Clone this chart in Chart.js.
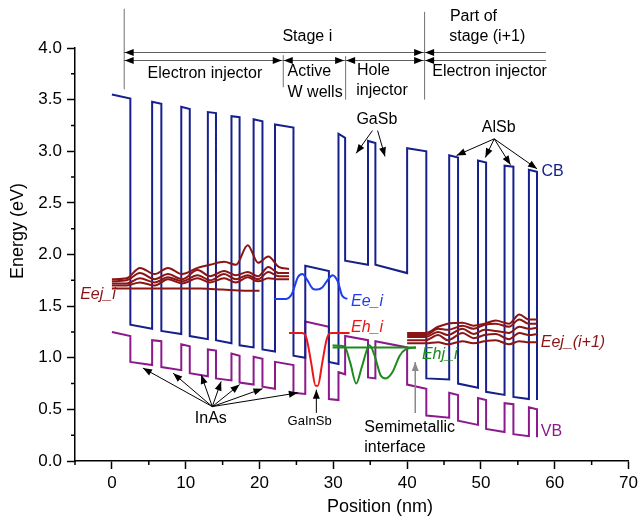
<!DOCTYPE html>
<html lang="en">
<head>
  <meta charset="UTF-8">
  <title>Band diagram</title>
  <script src="https://cdn.jsdelivr.net/npm/chart.js"></script>
  <style>
    body { margin: 0; background: #fff; }
    #chart { display: block; }
  </style>
</head>
<body>
  <canvas id="chart" width="642" height="520"></canvas>

  <script>
    // axis ticks
    var xTicks = [0, 10, 20, 30, 40, 50, 60, 70];
    var yTicks = [0, 0.5, 1, 1.5, 2, 2.5, 3, 3.5, 4];
    var yTickLabels = ['0.0', '0.5', '1.0', '1.5', '2.0', '2.5', '3.0', '3.5', '4.0'];

    // conduction band edge
    var cbPos = [0, 2.5, 2.5, 5.45, 5.45, 6.7, 6.7, 9.4, 9.4, 10.55, 10.55, 13.0, 13.0, 14.1, 14.1, 16.2, 16.2, 17.3, 17.3, 19.2, 19.2, 20.4, 20.4, 22.1, 22.1, 24.6, 24.6, 26.2, 26.2, 29.4, 29.4, 30.7, 30.7, 31.6, 31.6, 34.7, 34.7, 35.7, 35.7, 40.0, 40.0, 42.6, 42.6, 45.7, 45.7, 46.9, 46.9, 49.6, 49.6, 50.7, 50.7, 53.2, 53.2, 54.4, 54.4, 56.5, 56.5, 57.6, 57.6];
    var cbEnergy = [3.55, 3.51, 1.32, 1.28, 3.48, 3.46, 1.26, 1.23, 3.43, 3.41, 1.21, 1.18, 3.38, 3.37, 1.17, 1.14, 3.34, 3.33, 1.12, 1.10, 3.31, 3.29, 1.08, 1.06, 3.26, 3.23, 1.02, 1.00, 1.89, 1.84, 0.96, 0.94, 3.17, 3.13, 1.94, 1.90, 3.10, 3.08, 1.90, 1.82, 3.03, 3.00, 0.80, 0.79, 2.96, 2.94, 0.75, 0.71, 2.91, 2.89, 0.67, 0.64, 2.86, 2.85, 0.62, 0.60, 2.82, 2.80, 0.59];

    // valence band edge
    var vbPos = cbPos;
    var vbEnergy = [1.25, 1.21, 0.96, 0.93, 1.17, 1.16, 0.91, 0.88, 1.13, 1.11, 0.85, 0.82, 1.08, 1.07, 0.80, 0.78, 1.04, 1.02, 0.76, 0.74, 1.01, 0.99, 0.72, 0.70, 0.96, 0.93, 0.66, 0.65, 1.35, 1.30, 0.60, 0.59, 0.86, 0.84, 1.21, 1.17, 0.81, 0.80, 1.16, 1.10, 0.74, 0.70, 0.44, 0.42, 0.66, 0.64, 0.39, 0.35, 0.61, 0.59, 0.31, 0.28, 0.56, 0.55, 0.26, 0.24, 0.52, 0.50, 0.23];

    // electron injector states, stage i
    var ejPos = [0, 2, 3.8, 5.8, 7.6, 9.5, 11.6, 13.3, 15.2, 16.8, 18.4, 19.8, 21.2, 22.6, 24.0];
    var ej1 = [1.76, 1.77, 1.87, 1.81, 1.87, 1.81, 1.87, 1.90, 1.93, 1.90, 2.09, 1.92, 1.98, 1.88, 1.86];
    var ej2 = [1.74, 1.75, 1.82, 1.76, 1.81, 1.76, 1.85, 1.79, 1.84, 1.80, 1.83, 1.79, 1.88, 1.82, 1.82];
    var ej3 = [1.72, 1.72, 1.77, 1.73, 1.78, 1.74, 1.80, 1.75, 1.81, 1.76, 1.80, 1.76, 1.83, 1.79, 1.79];
    var ej4 = [1.70, 1.70, 1.73, 1.70, 1.76, 1.72, 1.77, 1.73, 1.77, 1.73, 1.78, 1.74, 1.77, 1.76, 1.76];
    var ej5Pos = [0, 3, 6, 9, 12, 15, 18, 20];
    var ej5 = [1.67, 1.67, 1.67, 1.67, 1.67, 1.66, 1.65, 1.65];

    // electron injector states, stage i+1
    var ejnPos = [40, 42.5, 44.2, 45.5, 47.5, 49, 50.5, 52, 53.8, 55.2, 56.5, 57.6];
    var ejn1 = [1.24, 1.24, 1.30, 1.33, 1.34, 1.31, 1.33, 1.36, 1.33, 1.42, 1.37, 1.37];
    var ejn2 = [1.22, 1.22, 1.28, 1.27, 1.31, 1.28, 1.32, 1.33, 1.30, 1.37, 1.33, 1.33];
    var ejn3 = [1.20, 1.20, 1.25, 1.22, 1.28, 1.23, 1.27, 1.26, 1.24, 1.30, 1.28, 1.29];
    var ejn4 = [1.17, 1.17, 1.22, 1.17, 1.24, 1.19, 1.22, 1.23, 1.18, 1.24, 1.22, 1.23];
    var ejn5 = [1.14, 1.14, 1.15, 1.13, 1.16, 1.14, 1.16, 1.17, 1.13, 1.16, 1.15, 1.15];

    // active well states
    var eePos = [22.0, 23.6, 24.4, 25.2, 25.8, 26.5, 27.2, 27.8, 28.5, 29.3, 29.9, 30.6, 31.2, 31.9];
    var eeEnergy = [1.57, 1.57, 1.62, 1.78, 1.81, 1.75, 1.67, 1.66, 1.68, 1.76, 1.80, 1.74, 1.60, 1.57];
    var ehPos = [24.0, 25.8, 26.4, 27.0, 27.6, 27.9, 28.5, 29.1, 29.7, 32.2];
    var ehEnergy = [1.24, 1.24, 1.18, 0.95, 0.73, 0.73, 0.95, 1.18, 1.24, 1.24];

    // hole injector state
    var ehjPos = [29.9, 31.5, 32.3, 33.1, 33.9, 34.9, 35.6, 36.4, 37.1, 38.0, 39.0, 39.8, 41.2];
    var ehjEnergy = [1.12, 1.11, 0.95, 0.75, 0.92, 1.12, 1.02, 0.83, 0.80, 0.86, 1.02, 1.08, 1.10];
    var ehjLevelPos = [29.9, 41.2];
    var ehjLevel = [1.10, 1.10];

    function pts(xs, ys) {
      return xs.map(function(x, i) { return { x: x, y: ys[i] }; });
    }

    function band(label, xs, ys, color) {
      return { label: label, data: pts(xs, ys), borderColor: color, borderWidth: 2,
               pointRadius: 0, tension: 0, fill: false };
    }

    function wave(label, xs, ys, color) {
      return { label: label, data: pts(xs, ys), borderColor: color, borderWidth: 2,
               pointRadius: 0, cubicInterpolationMode: 'monotone', fill: false };
    }

    var navy = '#16208c';
    var purple = '#8c1a8c';
    var darkRed = '#8b1414';
    var blue = '#1e3cf0';
    var red = '#f01414';
    var green = '#1a8c1a';
    var FONT = '"Liberation Sans", Arial, sans-serif';

    // annotation layout in data units
    var texts = [
      { t: 'Stage i', x: 23.1, y: 4.11 },
      { t: 'Part of', x: 45.8, y: 4.30 },
      { t: 'stage (i+1)', x: 45.7, y: 4.11 },
      { t: 'Electron injector', x: 12.6, y: 3.75, align: 'center' },
      { t: 'Active', x: 23.8, y: 3.77 },
      { t: 'W wells', x: 23.8, y: 3.57 },
      { t: 'Hole', x: 33.2, y: 3.78 },
      { t: 'injector', x: 33.1, y: 3.59 },
      { t: 'Electron injector', x: 43.4, y: 3.77 },
      { t: 'GaSb', x: 35.9, y: 3.31, align: 'center' },
      { t: 'AlSb', x: 52.4, y: 3.23, align: 'center' },
      { t: 'CB', x: 58.2, y: 2.80, color: navy },
      { t: 'VB', x: 58.1, y: 0.28, color: purple },
      { t: 'Eej_i', x: -4.3, y: 1.61, color: darkRed, italic: true },
      { t: 'Ee_i', x: 32.4, y: 1.54, color: blue, italic: true },
      { t: 'Eh_i', x: 32.4, y: 1.29, color: red, italic: true },
      { t: 'Ehj_i', x: 42.0, y: 1.03, color: green, italic: true },
      { t: 'Eej_(i+1)', x: 58.1, y: 1.15, color: darkRed, italic: true },
      { t: 'InAs', x: 13.4, y: 0.41, align: 'center' },
      { t: 'GaInSb', x: 23.8, y: 0.38, size: 13 },
      { t: 'Semimetallic', x: 34.2, y: 0.32 },
      { t: 'interface', x: 34.2, y: 0.126 }
    ];

    var guides = [
      [1.6, 4.38, 3.60], [23.15, 3.93, 3.62], [31.6, 3.92, 3.50], [42.3, 4.35, 3.50]
    ];

    // [x1, y1, x2, y2, headAtStart, headAtEnd]
    var spans = [
      [1.6, 3.958, 42.3, 3.958, true, true],
      [42.3, 3.958, 58.8, 3.958, true, false],
      [1.6, 3.883, 23.15, 3.883, true, true],
      [23.15, 3.883, 31.6, 3.883, true, true],
      [31.6, 3.883, 42.3, 3.883, true, true],
      [42.3, 3.883, 58.8, 3.883, true, false]
    ];

    // [fromX, fromY, toX, toY, color]
    var pointers = [
      [35.3, 3.20, 33.1, 2.98], [36.0, 3.20, 37.0, 2.95],
      [51.8, 3.12, 46.7, 2.96], [51.8, 3.12, 50.6, 2.94], [51.8, 3.12, 54.0, 2.87], [51.8, 3.12, 57.6, 2.83],
      [13.6, 0.527, 4.2, 0.90], [13.6, 0.527, 8.3, 0.85], [13.6, 0.527, 12.1, 0.835], [13.6, 0.527, 14.8, 0.77],
      [13.6, 0.527, 17.3, 0.74], [13.6, 0.527, 20.4, 0.70], [13.6, 0.527, 25.2, 0.66],
      [27.7, 0.466, 27.7, 0.69],
      [41.1, 0.466, 41.1, 0.96, '#8a8a8a']
    ];

    function head(ctx, x1, y1, x2, y2, len, half) {
      var a = Math.atan2(y2 - y1, x2 - x1);
      ctx.beginPath();
      ctx.moveTo(x2, y2);
      ctx.lineTo(x2 - len * Math.cos(a) + half * Math.sin(a), y2 - len * Math.sin(a) - half * Math.cos(a));
      ctx.lineTo(x2 - len * Math.cos(a) - half * Math.sin(a), y2 - len * Math.sin(a) + half * Math.cos(a));
      ctx.closePath();
      ctx.fill();
    }

    var decor = {
      id: 'decor',
      afterDraw: function(chart) {
        var ctx = chart.ctx;
        var xs = chart.scales.x, ys = chart.scales.y;
        var px = function(v) { return xs.getPixelForValue(v); };
        var py = function(v) { return ys.getPixelForValue(v); };
        var area = chart.chartArea;
        ctx.save();

        // minor ticks
        ctx.strokeStyle = '#000';
        ctx.lineWidth = 1.5;
        ctx.beginPath();
        for (var v = -5; v <= 70; v += 10) {
          ctx.moveTo(px(v), area.bottom); ctx.lineTo(px(v), area.bottom + 4);
        }
        for (var e = 0.25; e < 4; e += 0.5) {
          ctx.moveTo(area.left, py(e)); ctx.lineTo(area.left - 4, py(e));
        }
        ctx.stroke();

        // axis titles
        ctx.fillStyle = '#000';
        ctx.font = '18px ' + FONT;
        ctx.textAlign = 'center';
        ctx.textBaseline = 'middle';
        ctx.fillText('Position (nm)', 380, 507);
        ctx.save();
        ctx.translate(18, 231);
        ctx.rotate(-Math.PI / 2);
        ctx.fillText('Energy (eV)', 0, 0);
        ctx.restore();

        // region guides
        ctx.strokeStyle = '#707070';
        ctx.lineWidth = 1;
        ctx.beginPath();
        guides.forEach(function(g) {
          ctx.moveTo(px(g[0]) + 0.5, py(g[1])); ctx.lineTo(px(g[0]) + 0.5, py(g[2]));
        });
        ctx.stroke();

        spans.forEach(function(s) {
          var x1 = px(s[0]), y1 = Math.round(py(s[1])) + 0.5, x2 = px(s[2]), y2 = Math.round(py(s[3])) + 0.5;
          ctx.strokeStyle = '#606060';
          ctx.lineWidth = 1;
          ctx.beginPath(); ctx.moveTo(x1, y1); ctx.lineTo(x2, y2); ctx.stroke();
          ctx.fillStyle = '#000';
          if (s[4]) head(ctx, x2, y2, x1 + 1, y1, 9, 3.5);
          if (s[5]) head(ctx, x1, y1, x2 - 1, y2, 9, 3.5);
        });

        pointers.forEach(function(p) {
          var c = p[4] || '#000';
          var x1 = px(p[0]), y1 = py(p[1]), x2 = px(p[2]), y2 = py(p[3]);
          ctx.strokeStyle = c;
          ctx.fillStyle = c;
          ctx.lineWidth = p[4] ? 1.5 : 1;
          ctx.beginPath(); ctx.moveTo(x1, y1); ctx.lineTo(x2, y2); ctx.stroke();
          head(ctx, x1, y1, x2, y2, 9, 3.5);
        });

        texts.forEach(function(t) {
          ctx.fillStyle = t.color || '#000';
          ctx.font = (t.italic ? 'italic ' : '') + (t.size || 16) + 'px ' + FONT;
          ctx.textAlign = t.align || 'left';
          ctx.textBaseline = 'middle';
          ctx.fillText(t.t, px(t.x), py(t.y));
        });

        ctx.restore();
      }
    };

    var chart = new Chart(document.getElementById('chart'), {
      type: 'line',
      data: {
        datasets: [
          wave('Eej_i 1', ejPos, ej1, darkRed),
          wave('Eej_i 2', ejPos, ej2, darkRed),
          wave('Eej_i 3', ejPos, ej3, darkRed),
          wave('Eej_i 4', ejPos, ej4, darkRed),
          wave('Eej_i 5', ej5Pos, ej5, darkRed),
          wave('Eej_(i+1) 1', ejnPos, ejn1, darkRed),
          wave('Eej_(i+1) 2', ejnPos, ejn2, darkRed),
          wave('Eej_(i+1) 3', ejnPos, ejn3, darkRed),
          wave('Eej_(i+1) 4', ejnPos, ejn4, darkRed),
          wave('Eej_(i+1) 5', ejnPos, ejn5, darkRed),
          wave('Ee_i', eePos, eeEnergy, blue),
          wave('Eh_i', ehPos, ehEnergy, red),
          wave('Ehj_i level', ehjLevelPos, ehjLevel, green),
          wave('Ehj_i', ehjPos, ehjEnergy, green),
          band('CB', cbPos, cbEnergy, navy),
          band('VB', vbPos, vbEnergy, purple)
        ]
      },
      options: {
        responsive: false,
        animation: false,
        layout: { padding: { top: 48, right: 12, left: 0, bottom: 0 } },
        plugins: { legend: { display: false }, tooltip: { enabled: false } },
        scales: {
          x: {
            type: 'linear',
            min: -5,
            max: 70,
            afterBuildTicks: function(s) { s.ticks = xTicks.map(function(v) { return { value: v }; }); },
            afterFit: function(s) { s.height = 59; },
            ticks: { color: '#000', font: { size: 17, family: FONT }, padding: 4, maxRotation: 0 },
            grid: { drawOnChartArea: false, tickLength: 8, tickWidth: 1.5, tickColor: '#000' },
            border: { color: '#000', width: 1.5 }
          },
          y: {
            type: 'linear',
            min: 0,
            max: 4,
            afterBuildTicks: function(s) { s.ticks = yTicks.map(function(v) { return { value: v }; }); },
            afterFit: function(s) { s.width = 75; },
            ticks: {
              color: '#000', font: { size: 17, family: FONT }, padding: 5,
              callback: function(v) { return yTickLabels[yTicks.indexOf(v)]; }
            },
            grid: { drawOnChartArea: false, tickLength: 8, tickWidth: 1.5, tickColor: '#000' },
            border: { color: '#000', width: 1.5 }
          }
        }
      },
      plugins: [decor]
    });
  </script>
</body>
</html>
